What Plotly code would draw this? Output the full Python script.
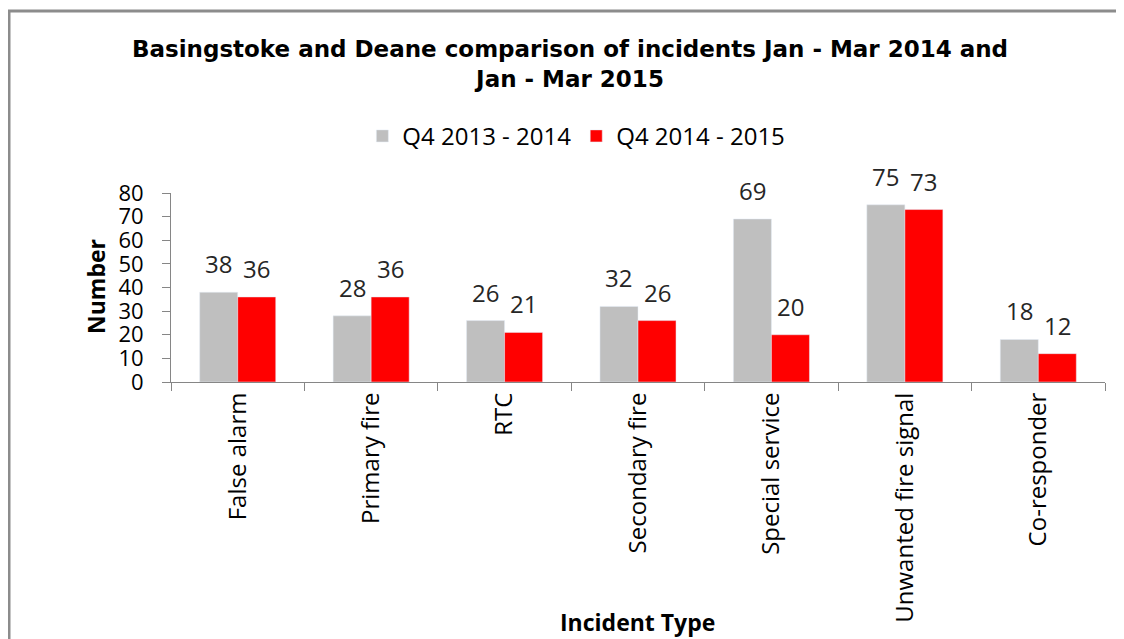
import plotly.graph_objects as go

categories = ["False alarm", "Primary fire", "RTC", "Secondary fire",
              "Special service", "Unwanted fire signal", "Co-responder"]
q4_2013_14 = [38, 28, 26, 32, 69, 75, 18]
q4_2014_15 = [36, 36, 21, 26, 20, 73, 12]

FONT = "Open Sans, Lato, sans-serif"
W, H = 1116, 631          # page body has an 8px margin
L, R, T, B = 163, 19, 185, 257
BARGAP = 0.43

fig = go.Figure()
fig.add_trace(go.Bar(x=categories, y=q4_2013_14, name="Q4 2013 - 2014",
                     marker_color="#bfbfbf"))
fig.add_trace(go.Bar(x=categories, y=q4_2014_15, name="Q4 2014 - 2015",
                     marker_color="#ff0000"))

# value labels above each bar
cat_px = (W - L - R) / len(categories)
half_bar = cat_px * (1 - BARGAP) / 4
for vals, dx in ((q4_2013_14, -half_bar), (q4_2014_15, half_bar)):
    for c, v in zip(categories, vals):
        fig.add_annotation(x=c, y=v, text=str(v), showarrow=False,
                           xshift=dx, yshift=10, xanchor="center", yanchor="bottom",
                           font=dict(size=24, family=FONT, color="#262626"))

fig.update_layout(
    width=W, height=H,
    margin=dict(l=L, r=R, t=T, b=B),
    paper_bgcolor="white", plot_bgcolor="white",
    barmode="group", bargap=BARGAP, bargroupgap=0,
    font=dict(family=FONT, color="#000000"),
    title=dict(text="<b>Basingstoke and Deane comparison of incidents Jan - Mar 2014 and<br>Jan - Mar 2015</b>",
               xref="container", x=562 / W, xanchor="center",
               yref="container", y=1 - 49 / H, yanchor="middle",
               font=dict(family="DejaVu Sans, Liberation Sans, Arial", size=23, color="#000000")),
    legend=dict(orientation="h", x=0.434, xanchor="center", y=1.30, yanchor="middle",
                font=dict(size=24, family=FONT, color="#000000"), traceorder="normal"),
    showlegend=True,
)

fig.update_yaxes(range=[0, 80], dtick=10, showgrid=False, zeroline=False,
                 showline=True, linecolor="#868686", linewidth=1,
                 ticks="outside", ticklen=8, tickcolor="#868686", ticklabelstandoff=14,
                 tickfont=dict(size=22, family=FONT, color="#000000"))
fig.update_xaxes(showgrid=False, showline=True, linecolor="#868686", linewidth=1,
                 ticks="outside", ticklen=8, tickcolor="#868686", tickson="boundaries",
                 tickangle=-90, tickfont=dict(size=24, family=FONT, color="#000000"))

fig.add_annotation(text="<b>Number</b>", xref="paper", yref="paper",
                   x=(96 - 171) / 934, y=(382 - 287) / 189, textangle=-90, showarrow=False,
                   xanchor="center", yanchor="middle",
                   font=dict(size=23, family=FONT, color="#000000"))
fig.add_annotation(text="<b>Incident Type</b>", xref="paper", yref="paper",
                   x=(637 - 171) / 934, y=(382 - 622) / 189, showarrow=False,
                   xanchor="center", yanchor="middle",
                   font=dict(size=23, family=FONT, color="#000000"))

# chart-area border (cropped on right and bottom)
fig.add_shape(type="rect", xref="paper", yref="paper",
              x0=(9 - 171) / 934, x1=(1140 - 171) / 934,
              y0=(382 - 660) / 189, y1=(382 - 11) / 189,
              line=dict(color="#8c8c8c", width=3), fillcolor="rgba(0,0,0,0)", layer="below")

fig.write_html("out.html")
